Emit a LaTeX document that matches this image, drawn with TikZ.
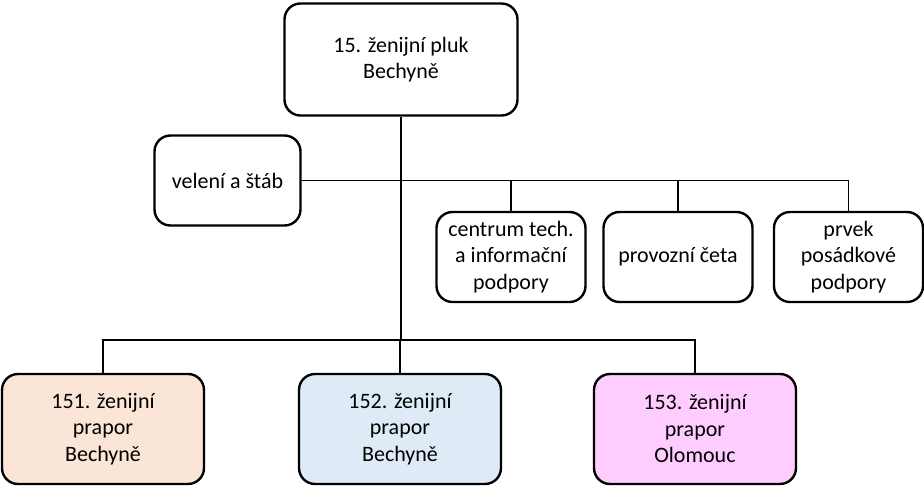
\documentclass[tikz,border=0pt]{standalone}
\usepackage{fontspec}
\setmainfont{Carlito}
\definecolor{peach}{HTML}{FBE5D6}
\definecolor{skyl}{HTML}{DEEBF7}
\definecolor{pinkl}{HTML}{FFCCFF}
\begin{document}
\begin{tikzpicture}[
    x=1pt, y=-1pt,
    unit/.style={draw, rectangle, rounded corners=16pt, line width=2.4pt, fill=white, align=center, inner sep=2pt, font=\fontsize{22}{26.5}\selectfont},
    sub/.style={unit, minimum width=149pt, minimum height=90pt},
    bat/.style={unit, minimum width=202pt, minimum height=110pt},
    conn/.style={draw, line width=1.7pt}
]
\useasboundingbox (0,0) rectangle (924,486);

% velitelství pluku
\node[unit, minimum width=233pt, minimum height=112pt] (pluk) at (401,59.5) {15. ženijní pluk\\Bechyně};
\node[unit, minimum width=146pt, minimum height=90pt] (stab) at (227.5,180.5) {velení a štáb};

% podpůrné prvky
\node[sub] (centrum) at (511,257) {centrum tech.\\a informační\\podpory};
\node[sub] (ceta) at (678,257) {provozní četa};
\node[sub] (prvek) at (848.5,257) {prvek\\posádkové\\podpory};

% prapory
\node[bat, fill=peach] (p151) at (103,429) {151. ženijní\\prapor\\Bechyně};
\node[bat, fill=skyl] (p152) at (400,429) {152. ženijní\\prapor\\Bechyně};
\node[bat, fill=pinkl] (p153) at (695,429) {153. ženijní\\prapor\\Olomouc};

% spoje
\coordinate (busB) at (401,340);
\draw[conn] (pluk.south) -- (busB);
\draw[conn] (stab.east) -- (stab.east -| prvek.north) -- (prvek.north);
\foreach \n in {centrum, ceta} {
    \draw[conn] (\n.north) -- (\n.north |- stab.east);
}
\draw[conn] (p151.north) -- (p151.north |- busB) -- (p153.north |- busB) -- (p153.north);
\draw[conn] (p152.north) -- (p152.north |- busB);
\end{tikzpicture}
\end{document}
